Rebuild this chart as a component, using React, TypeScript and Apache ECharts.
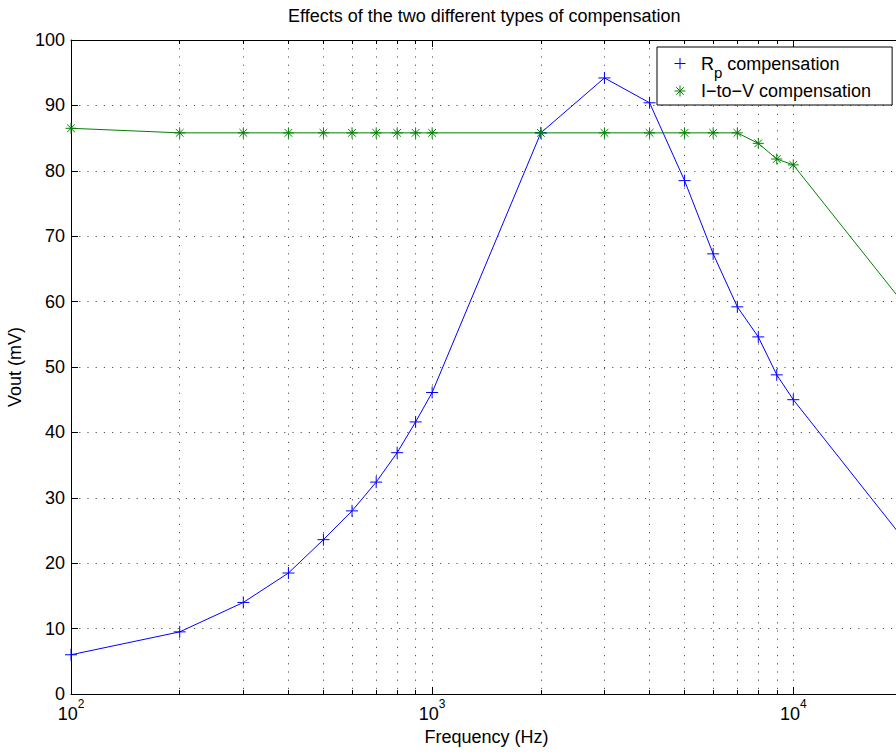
import React, { useEffect, useRef } from 'react';
import * as echarts from 'echarts';

const frequencies = [100, 200, 300, 400, 500, 600, 700, 800, 900, 1000, 2000, 3000, 4000, 5000, 6000, 7000, 8000, 9000, 10000, 20000];
const rpValues = [6, 9.5, 14, 18.5, 23.6, 28, 32.4, 36.9, 41.6, 46.1, 85.8, 94.2, 90.4, 78.5, 67.3, 59.2, 54.6, 48.8, 45, 24];
const ivValues = [86.5, 85.8, 85.8, 85.8, 85.8, 85.8, 85.8, 85.8, 85.8, 85.8, 85.8, 85.8, 85.8, 85.8, 85.8, 85.8, 84.2, 81.8, 80.9, 60];
const majorTicks = [100, 1000, 10000];
const minorTicks = [200, 300, 400, 500, 600, 700, 800, 900, 2000, 3000, 4000, 5000, 6000, 7000, 8000, 9000];
const gridTicks = [100, 200, 300, 400, 500, 600, 700, 800, 900, 1000, 2000, 3000, 4000, 5000, 6000, 7000, 8000, 9000, 10000, 20000];

const RP_NAME = 'Rp compensation';
const IV_NAME = 'I\u2212to\u2212V compensation';
const TITLE = 'Effects of the two different types of compensation';
const X_NAME = 'Frequency (Hz)';
const Y_NAME = 'Vout (mV)';

const FONT = '"Liberation Sans", Arial, Helvetica, sans-serif';
const BLUE = '#0000ff';
const GREEN = '#008000';
const PLUS = 'path://M0,6L12,6M6,0L6,12';
const STAR = 'path://M0,6L12,6M6,0L6,12M1.8,1.8L10.2,10.2M1.8,10.2L10.2,1.8';

const dotted = { color: '#555', width: 1, type: [1.2, 7] as any };

export default function App() {
  const ref = useRef<HTMLDivElement>(null);
  useEffect(() => {
    document.body.style.margin = '0';
    const chart = echarts.init(ref.current!, null, { renderer: 'svg' });
    const xBase = {
      type: 'log' as const,
      logBase: 10,
      min: 100,
      max: 20000,
      gridIndex: 0,
    };
    const option: any = {
      animation: false,
      backgroundColor: '#fff',
      title: {
        text: TITLE,
        left: 288,
        top: 7,
        padding: 0,
        textStyle: { fontFamily: FONT, fontSize: 18, fontWeight: 'normal', color: '#000' },
      },
      grid: { left: 71, top: 40, width: 831, height: 654, containLabel: false, outerBoundsMode: 'none' },
      legend: {
        left: 657,
        top: 47,
        orient: 'vertical',
        padding: [0, 21, 5, 17],
        itemWidth: 32,
        itemHeight: 11,
        itemGap: 2,
        borderColor: '#000',
        borderWidth: 1,
        borderRadius: 0,
        backgroundColor: '#fff',
        data: [
          { name: RP_NAME, icon: PLUS, itemStyle: { color: BLUE, borderColor: BLUE, borderWidth: 1 } },
          { name: IV_NAME, icon: STAR, itemStyle: { color: GREEN, borderColor: GREEN, borderWidth: 1 } },
        ],
        formatter: (name: string) =>
          name === RP_NAME ? '{n|R}{sub|p}{n| compensation}' : '{n|' + name + '}',
        textStyle: {
          fontFamily: FONT,
          fontSize: 18,
          color: '#000',
          rich: {
            n: { fontFamily: FONT, fontSize: 18, color: '#000', lineHeight: 18 },
            sub: { fontFamily: FONT, fontSize: 15, color: '#000', lineHeight: 18, padding: [18, 0, 0, 0] },
          },
        },
      },
      xAxis: [
        {
          ...xBase,
          position: 'bottom',
          name: X_NAME,
          nameLocation: 'middle',
          nameGap: 34,
          nameMoveOverlap: false,
          nameTextStyle: { fontFamily: FONT, fontSize: 18, color: '#000' },
          axisLine: { show: true, lineStyle: { color: '#000', width: 1 } },
          axisTick: { show: true, inside: true, length: 7, customValues: majorTicks, lineStyle: { color: '#000' } },
          axisLabel: {
            show: true,
            customValues: majorTicks,
            margin: 8,
            formatter: (v: number) => '{b|10}{s|' + Math.round(Math.log10(v)) + '}',
            rich: {
              b: { fontFamily: FONT, fontSize: 18, color: '#000', lineHeight: 24 },
              s: { fontFamily: FONT, fontSize: 12, color: '#000', lineHeight: 12, padding: [0, 0, 20, 0] },
            },
          },
          splitLine: { show: false },
          minorTick: { show: false },
        },
        {
          ...xBase,
          position: 'bottom',
          axisLine: { show: false },
          axisTick: { show: true, inside: true, length: 4, customValues: gridTicks, lineStyle: { color: '#000' } },
          axisLabel: { show: false },
          splitLine: { show: true, lineStyle: dotted },
        },
        {
          ...xBase,
          position: 'top',
          axisLine: { show: true, lineStyle: { color: '#000', width: 1 } },
          axisTick: { show: true, inside: true, length: 7, customValues: majorTicks, lineStyle: { color: '#000' } },
          axisLabel: { show: false },
          splitLine: { show: false },
        },
        {
          ...xBase,
          position: 'top',
          axisLine: { show: false },
          axisTick: { show: true, inside: true, length: 4, customValues: minorTicks, lineStyle: { color: '#000' } },
          axisLabel: { show: false },
          splitLine: { show: false },
        },
      ],
      yAxis: [
        {
          type: 'value',
          min: 0,
          max: 100,
          interval: 10,
          position: 'left',
          name: Y_NAME,
          nameLocation: 'middle',
          nameGap: 44,
          nameTextStyle: { fontFamily: FONT, fontSize: 18, color: '#000' },
          axisLine: { show: true, lineStyle: { color: '#000', width: 1 } },
          axisTick: { show: true, inside: true, length: 7, lineStyle: { color: '#000' } },
          axisLabel: { fontFamily: FONT, fontSize: 18, color: '#000', margin: 6 },
          splitLine: { show: true, lineStyle: dotted },
        },
      ],
      series: [
        {
          name: RP_NAME,
          type: 'line',
          xAxisIndex: 0,
          data: frequencies.map((f, i) => [f, rpValues[i]]),
          symbol: PLUS,
          symbolSize: 12,
          lineStyle: { color: BLUE, width: 1 },
          itemStyle: { color: BLUE, borderColor: BLUE, borderWidth: 1 },
          z: 3,
        },
        {
          name: IV_NAME,
          type: 'line',
          xAxisIndex: 0,
          data: frequencies.map((f, i) => [f, ivValues[i]]),
          symbol: STAR,
          symbolSize: 11,
          lineStyle: { color: GREEN, width: 1 },
          itemStyle: { color: GREEN, borderColor: GREEN, borderWidth: 1 },
          z: 3,
        },
      ],
    };
    chart.setOption(option);
    return () => chart.dispose();
  }, []);
  return <div ref={ref} style={{ width: 896, height: 754 }} />;
}
